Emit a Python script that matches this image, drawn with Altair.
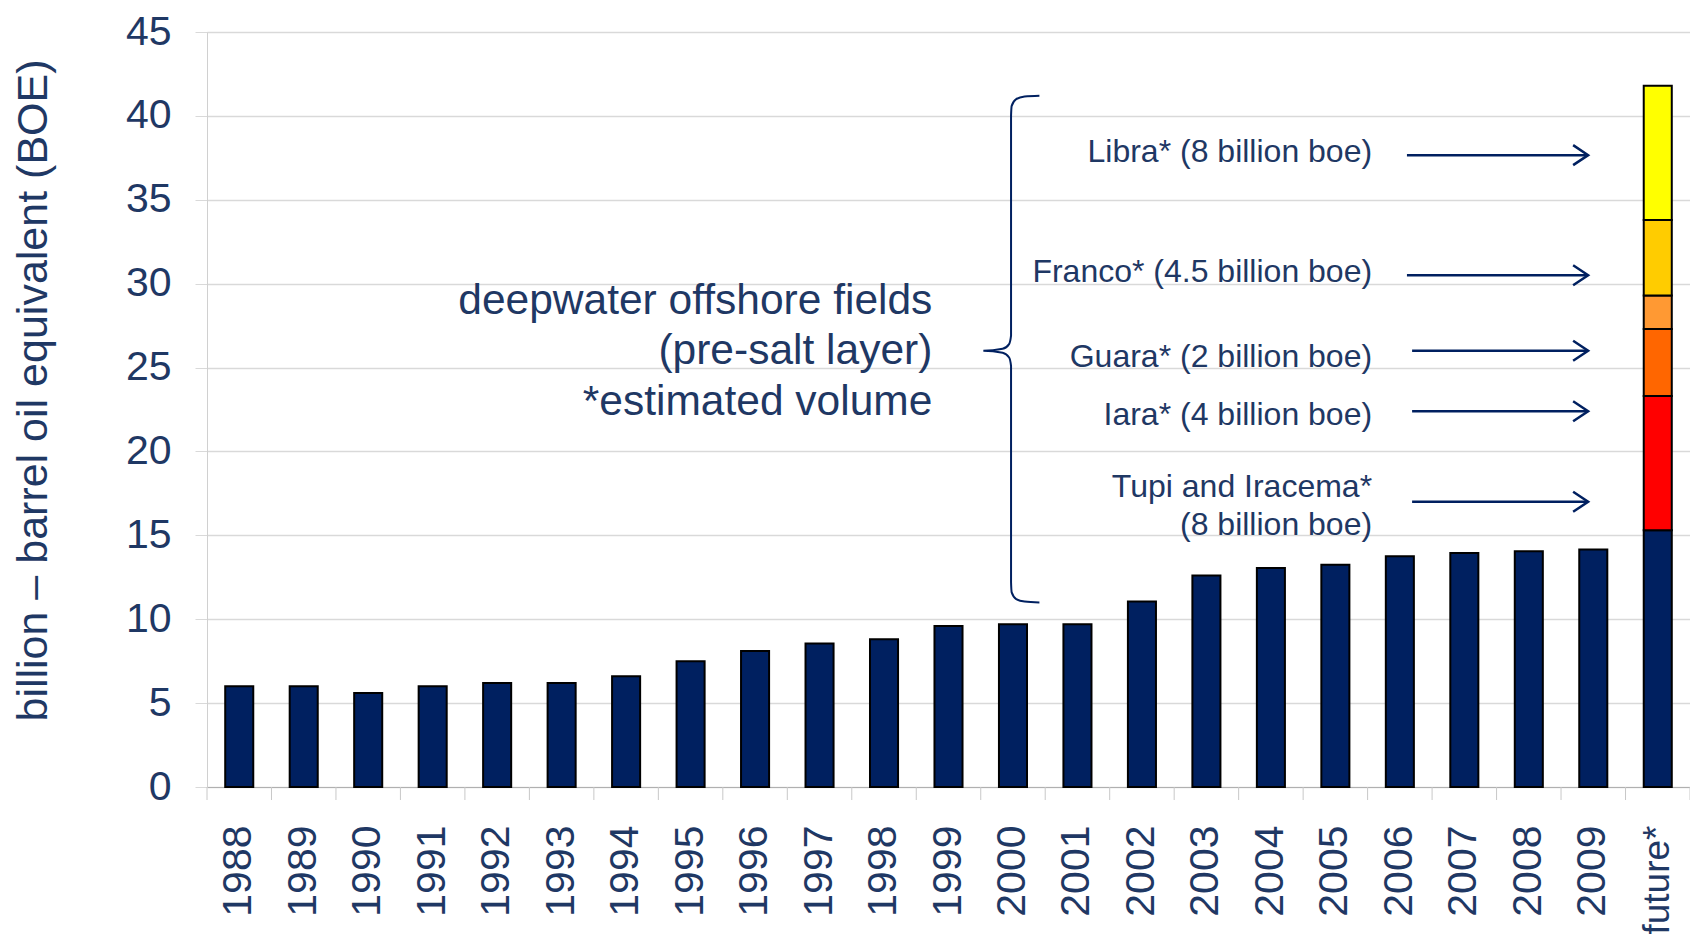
import altair as alt
import pandas as pd

# ---------------- data ----------------
categories = ["1988", "1989", "1990", "1991", "1992", "1993", "1994", "1995",
              "1996", "1997", "1998", "1999", "2000", "2001", "2002", "2003",
              "2004", "2005", "2006", "2007", "2008", "2009", "future*"]
reserves = [6.0, 6.0, 5.6, 6.0, 6.2, 6.2, 6.6, 7.5, 8.1, 8.55, 8.8, 9.6, 9.7,
            9.7, 11.05, 12.6, 13.05, 13.25, 13.75, 13.95, 14.05, 14.15, 15.3]

fields = ["Tupi and Iracema", "Iara", "Guara", "Franco", "Libra"]
field_volumes = [8, 4, 2, 4.5, 8]
field_colors = ["#FF0000", "#FF6600", "#FF9933", "#FFCC00", "#FFFF00"]

field_labels = ["Libra* (8 billion boe)", "Franco* (4.5 billion boe)",
                "Guara* (2 billion boe)", "Iara* (4 billion boe)",
                "Tupi and Iracema*", "(8 billion boe)"]
field_label_y = [37.85, 30.7, 25.6, 22.2, 17.9, 15.6]
field_label_x = 18.07
arrow_y = [37.66, 30.5, 26.0, 22.4, 17.0]
arrow_x_start = [18.61, 18.61, 18.69, 18.69, 18.69]
arrow_x_end = [21.42, 21.42, 21.42, 21.42, 21.42]

note_lines = ["deepwater offshore fields", "(pre-salt layer)", "*estimated volume"]
note_y = [28.98, 25.96, 22.94]
note_x = 11.25

# brace outline (x in category-slot units, y in BOE)
brace_x = [12.91, 12.68, 12.55, 12.48, 12.47, 12.47, 12.44, 12.34, 12.04,
           12.34, 12.44, 12.47, 12.47, 12.48, 12.55, 12.68, 12.91]
brace_y = [41.2, 41.15, 41.0, 40.6, 40.0, 26.9, 26.4, 26.12, 26.0,
           25.88, 25.6, 25.1, 12.2, 11.6, 11.2, 11.05, 11.0]

# ---------------- tables ----------------
NAVY = "#002060"
TEXT = "#1F3864"
FONT = "Liberation Sans"

rows = []
for c, v in zip(categories, reserves):
    rows.append({"cat": c, "segment": "reserves", "value": v, "ord": 0})
for i, (f, v) in enumerate(zip(fields, field_volumes)):
    rows.append({"cat": categories[-1], "segment": f, "value": v, "ord": i + 1})
bars_df = pd.DataFrame(rows)

labels_df = pd.DataFrame({"text": field_labels, "y": field_label_y,
                          "x": [field_label_x] * len(field_labels)})
arrows_df = pd.DataFrame({"y": arrow_y, "x0": arrow_x_start, "x1": arrow_x_end})
note_df = pd.DataFrame({"text": note_lines, "y": note_y,
                        "x": [note_x] * len(note_lines)})
brace_df = pd.DataFrame({"x": brace_x, "y": brace_y,
                         "i": list(range(len(brace_x)))})
n = len(categories)
ticks_df = pd.DataFrame({"x": list(range(n + 1))})

W, H = 1483, 755
pad_outer = 0.2825
yscale = alt.Scale(domain=[0, 45])
xq = alt.Scale(domain=[0, n])

bars = alt.Chart(bars_df).mark_bar(stroke="black", strokeWidth=2).encode(
    x=alt.X("cat:N", sort=categories,
            scale=alt.Scale(paddingInner=2 * pad_outer, paddingOuter=pad_outer),
            axis=alt.Axis(title=None, labelAngle=270, labelAlign="right",
                          labelBaseline="middle",
                          labelFontSize=alt.ExprRef(
                              "datum.value == 'future*' ? 37 : 41"),
                          labelFont=FONT, labelColor=TEXT, labelPadding=38,
                          ticks=False, domainColor="#B0B0B0", grid=False)),
    y=alt.Y("value:Q", stack="zero", scale=yscale,
            axis=alt.Axis(title="billion – barrel oil equivalent (BOE)",
                          values=list(range(0, 46, 5)),
                          labelFontSize=41, labelFont=FONT, labelColor=TEXT,
                          labelPadding=24, tickSize=12, tickColor="#D9D9D9",
                          domainColor="#D0D0D0", gridColor="#D9D9D9",
                          gridWidth=1.5, titleFontSize=43, titleFont=FONT,
                          titleFontWeight="normal", titleColor=TEXT,
                          titleAngle=270, titleX=-174, titleY=358,
                          titleAlign="center", titleBaseline="middle")),
    color=alt.Color("segment:N",
                    scale=alt.Scale(domain=["reserves"] + fields,
                                    range=[NAVY] + field_colors),
                    legend=None),
    order=alt.Order("ord:Q"),
)

xticks = alt.Chart(ticks_df).mark_rule(color="#C8C8C8", strokeWidth=1).encode(
    x=alt.X("x:Q", scale=xq, axis=None),
    y=alt.value(H),
    y2=alt.value(H + 13),
)

brace = alt.Chart(brace_df).mark_line(color=NAVY, strokeWidth=2,
                                      interpolate="monotone").encode(
    x=alt.X("x:Q", scale=xq, axis=None),
    y=alt.Y("y:Q", scale=yscale),
    order="i:Q",
)

notes = alt.Chart(note_df).mark_text(align="right", baseline="middle",
                                     fontSize=42.5, font=FONT, color=TEXT).encode(
    x=alt.X("x:Q", scale=xq, axis=None),
    y=alt.Y("y:Q", scale=yscale),
    text="text:N",
)

labels = alt.Chart(labels_df).mark_text(align="right", baseline="middle",
                                        fontSize=32, font=FONT, color=TEXT).encode(
    x=alt.X("x:Q", scale=xq, axis=None),
    y=alt.Y("y:Q", scale=yscale),
    text="text:N",
)

shafts = alt.Chart(arrows_df).mark_rule(color=NAVY, strokeWidth=2.5).encode(
    x=alt.X("x0:Q", scale=xq, axis=None),
    x2="x1:Q",
    y=alt.Y("y:Q", scale=yscale),
)

heads = alt.Chart(arrows_df).mark_point(
    shape="M -1.5 -1 L 0 0 L -1.5 1", filled=False, stroke=NAVY,
    strokeWidth=2.5, size=400, opacity=1).encode(
    x=alt.X("x1:Q", scale=xq, axis=None),
    y=alt.Y("y:Q", scale=yscale),
)

overlay = alt.layer(xticks, brace, notes, labels, shafts, heads)

chart = alt.layer(bars, overlay).resolve_scale(x="independent").properties(
    width=W, height=H,
    padding={"left": 199, "top": 24, "right": 0, "bottom": 151},
    autosize=alt.AutoSizeParams(type="none"),
).configure_view(stroke=None).configure(background="white")

chart.save("out.html", embed_options={"renderer": "svg", "actions": False})
